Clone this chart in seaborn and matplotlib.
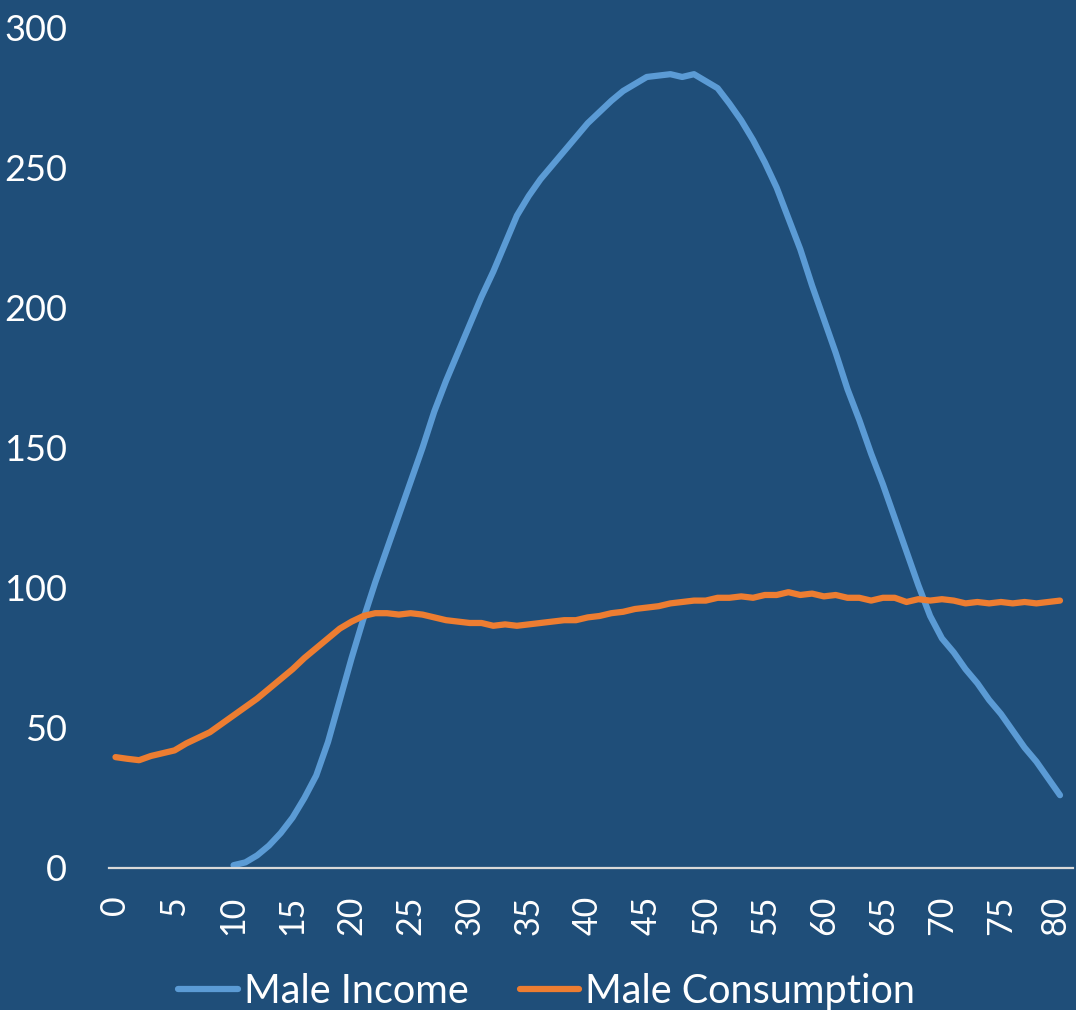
import numpy as np
import pandas as pd
import matplotlib
matplotlib.use("Agg")
import matplotlib.pyplot as plt
import matplotlib.transforms as mtransforms
import seaborn as sns

# Age profile (per-capita, thousands) for males
ages = list(range(0, 81))

income_ages = list(range(10, 81))
male_income = [
    1, 2, 4.5, 8, 12.5, 18, 25, 33, 45, 60,           # 10-19
    75, 89, 102, 114, 126, 138, 150, 163, 174, 184,   # 20-29
    194, 204, 213, 223, 233, 240, 246, 251, 256, 261, # 30-39
    266, 270, 274, 277.5, 280, 282.5, 283, 283.5, 282.5, 283.5,  # 40-49
    281, 278.5, 273, 267, 260, 252, 243, 232, 221, 208,          # 50-59
    196, 184, 171, 160, 148, 137, 125, 113, 101, 90,             # 60-69
    82, 77, 71, 66, 60, 55, 49, 43, 38, 32,                       # 70-79
    26,                                                            # 80
]

male_consumption = [
    39.6, 39, 38.5, 40, 41, 42, 44.5, 46.5, 48.5, 51.5,      # 0-9
    54.5, 57.5, 60.5, 64, 67.5, 71, 75, 78.5, 82, 85.5,      # 10-19
    88, 90, 91, 91, 90.5, 91, 90.5, 89.5, 88.5, 88,          # 20-29
    87.5, 87.5, 86.5, 87, 86.5, 87, 87.5, 88, 88.5, 88.5,    # 30-39
    89.5, 90, 91, 91.5, 92.5, 93, 93.5, 94.5, 95, 95.5,      # 40-49
    95.5, 96.5, 96.5, 97, 96.5, 97.5, 97.5, 98.5, 97.5, 98,  # 50-59
    97, 97.5, 96.5, 96.5, 95.5, 96.5, 96.5, 95, 96, 95.5,    # 60-69
    96, 95.5, 94.5, 95, 94.5, 95, 94.5, 95, 94.5, 95, 95.5,  # 70-80
]

series_names = ["Male Income", "Male Consumption"]
colors = ["#5B9BD5", "#ED7D31"]
bg = "#1F4E79"

df = pd.concat([
    pd.DataFrame({"age": income_ages, "value": male_income, "series": series_names[0]}),
    pd.DataFrame({"age": ages, "value": male_consumption, "series": series_names[1]}),
], ignore_index=True)

sns.set_theme(style="white")
plt.rcParams["font.family"] = ["Lato", "DejaVu Sans"]

fig = plt.figure(figsize=(10.76, 10.10), dpi=100, facecolor=bg)
ax = fig.add_axes([0.1013, 0.1406, 0.8959, 0.8317])
ax.set_facecolor(bg)

sns.lineplot(
    data=df, x="age", y="value", hue="series",
    palette=dict(zip(series_names, colors)),
    estimator=None, sort=True, linewidth=4.5, legend=False, ax=ax,
)
for ln in ax.get_lines():
    ln.set_solid_capstyle("round")
    ln.set_solid_joinstyle("round")

ax.set_xlim(-0.55, 81.1)
ax.set_ylim(0, 300)
ax.set_xticks(range(0, 81, 5))
ax.set_yticks(range(0, 301, 50))
ax.set_xlabel("")
ax.set_ylabel("")

for s in ["top", "right", "left"]:
    ax.spines[s].set_visible(False)
ax.spines["bottom"].set_color("#D9D9D9")
ax.spines["bottom"].set_linewidth(1.6)

ax.tick_params(axis="y", length=0, pad=30, labelsize=26, labelcolor="white")
ax.tick_params(axis="x", length=0, pad=20, labelsize=24.5, labelcolor="white",
               labelrotation=90)
ax.grid(False)

# keep the last age label clear of the right edge
last = ax.get_xticklabels()[-1]
last.set_transform(last.get_transform() +
                   mtransforms.ScaledTranslation(-3 / 72, 0, fig.dpi_scale_trans))

handles = [plt.Line2D([], [], color=c, linewidth=4.5, solid_capstyle="round")
           for c in colors]
fig.legend(handles, series_names, loc="lower center", ncol=2,
           bbox_to_anchor=(0.508, -0.035), frameon=False, fontsize=28.5,
           labelcolor="white", handlelength=1.5, handletextpad=0.15,
           columnspacing=1.3)

fig.savefig("out.png", dpi=100, facecolor=bg)
